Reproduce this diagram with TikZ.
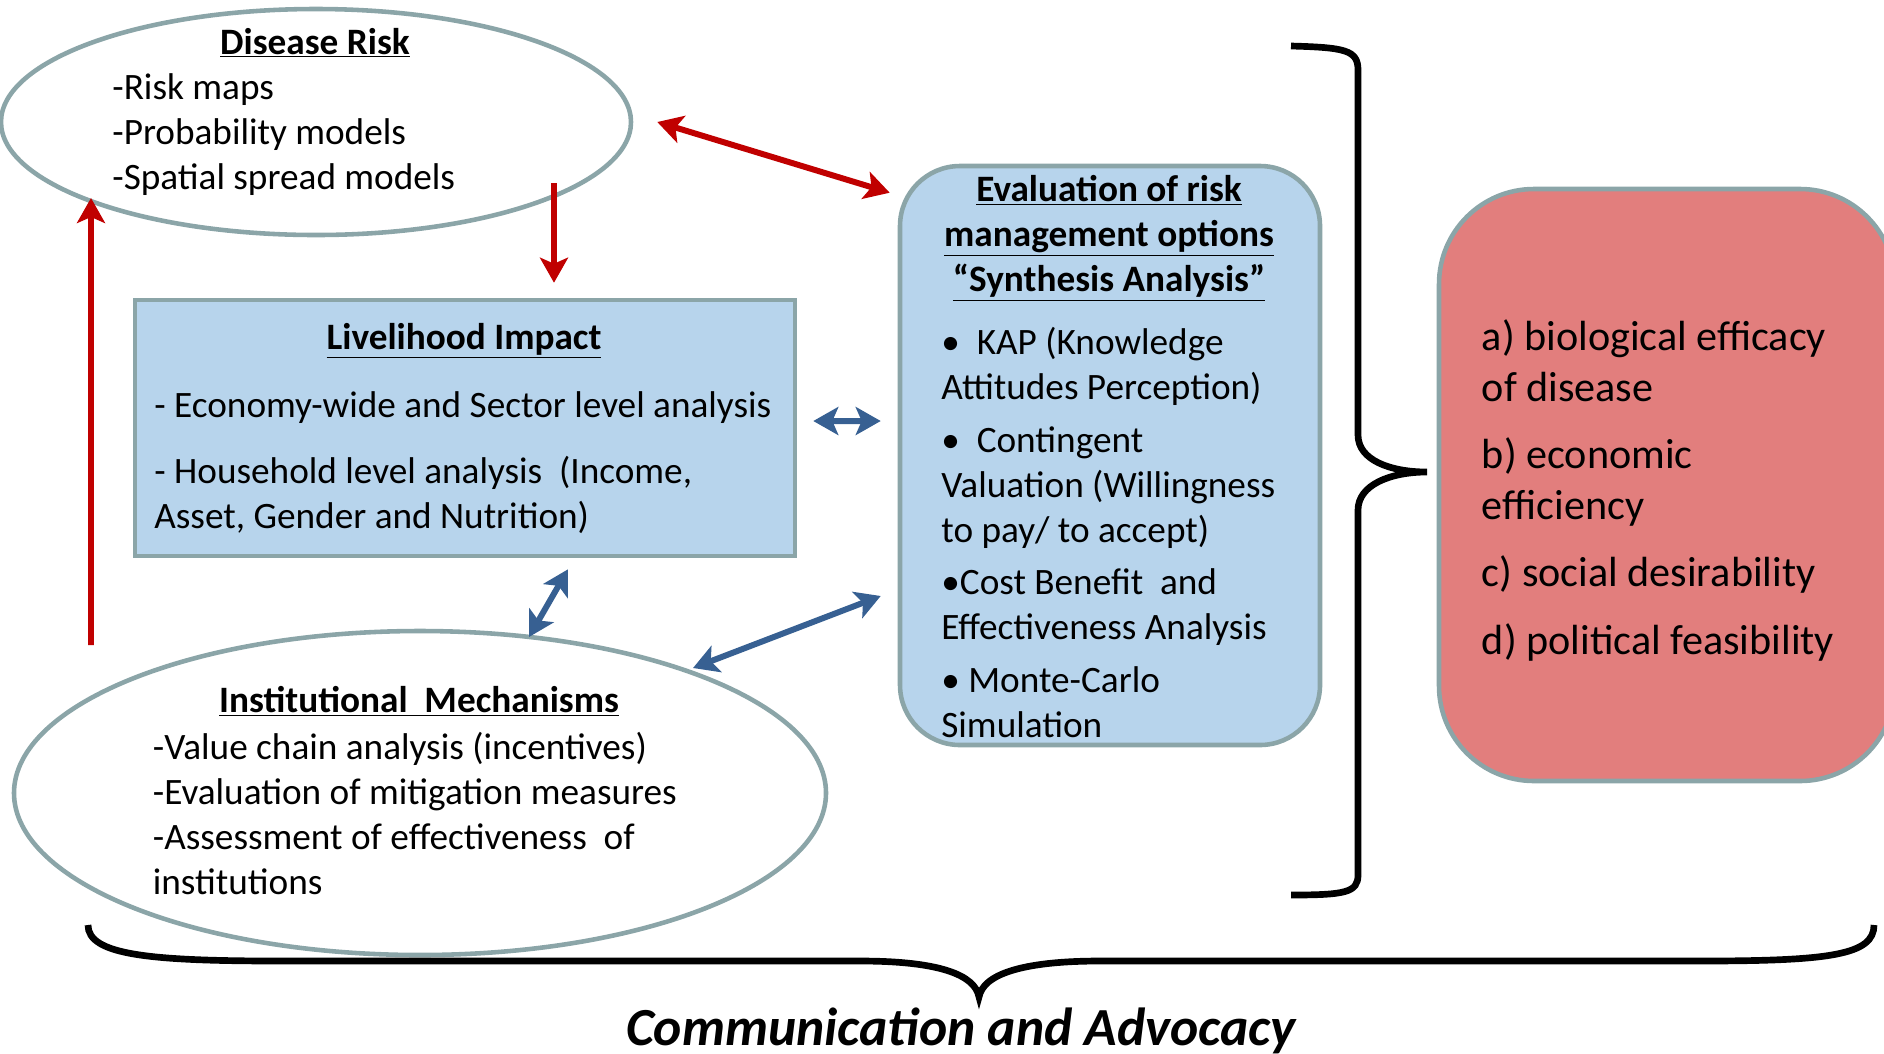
\documentclass[tikz,border=0pt]{standalone}
\usepackage{fontspec}
\setmainfont{Carlito}
\usetikzlibrary{shapes.geometric, arrows.meta}
\definecolor{edgecolor}{RGB}{139, 165, 168}
\definecolor{boxcolor}{RGB}{183, 212, 236}
\definecolor{criteriacolor}{RGB}{226, 126, 125}
\definecolor{riskred}{RGB}{192, 0, 0}
\definecolor{linkblue}{RGB}{55, 96, 146}

\begin{document}
\begin{tikzpicture}[
    >={Stealth[length=0.5cm, width=0.56cm, inset=0.12cm]},
    oval/.style={ellipse, draw=edgecolor, line width=2.6pt, fill=white},
    panel/.style={rectangle, draw=edgecolor, line width=2.6pt, fill=boxcolor},
    heading/.style={font=\fontsize{21.2}{25.6}\selectfont\bfseries, align=center, anchor=base, inner sep=0pt},
    body/.style={font=\fontsize{21.2}{25.6}\selectfont, align=left, anchor=west, inner sep=0pt},
    redlink/.style={draw=riskred, line width=3.4pt},
    bluelink/.style={draw=linkblue, line width=3.4pt},
    brace/.style={draw=black, line width=3.8pt}
]
\clip (0,0) rectangle (37.68,-21.06);
\useasboundingbox (0,0) rectangle (37.68,-21.06);

% Disease risk
\node[oval, minimum width=12.6cm, minimum height=4.52cm] (risk) at (6.32,-2.44) {};
\node[heading] (riskhead) at (6.3,-1.08) {\underline{Disease Risk}};
\node[body] (risklist) at (2.24,-2.69) {-Risk maps\\-Probability models\\-Spatial spread models};

% Livelihood impact
\node[panel, minimum width=13.2cm, minimum height=5.12cm] (live) at (9.3,-8.56) {};
\node[heading] (livehead) at (9.28,-6.99) {\underline{Livelihood Impact}};
\node[body] (livelist) at (3.08,-9.26) {- Economy-wide and Sector level analysis\\[0.42cm]- Household level analysis\ \ (Income,\\Asset, Gender and Nutrition)};

% Institutional mechanisms
\node[oval, minimum width=16.24cm, minimum height=6.48cm] (inst) at (8.4,-15.86) {};
\node[heading] (insthead) at (8.38,-14.25) {\underline{Institutional\ \ Mechanisms}};
\node[body] (instlist) at (3.05,-16.27) {-Value chain analysis (incentives)\\-Evaluation of mitigation measures\\-Assessment of effectiveness\ \ of\\institutions};

% Synthesis analysis
\node[panel, rounded corners=1.2cm, minimum width=8.4cm, minimum height=11.58cm] (eval) at (22.2,-9.11) {};
\node[heading, anchor=center] (evalhead) at (22.18,-4.77) {\underline{Evaluation of risk}\\\underline{management options}\\\underline{“Synthesis Analysis”}};
\node[body] (evallist) at (18.82,-10.65) {•\ \ KAP (Knowledge\\Attitudes Perception)\\[0.17cm]•\ \ Contingent\\Valuation (Willingness\\to pay/ to accept)\\[0.14cm]•Cost Benefit\ \ and\\Effectiveness Analysis\\[0.16cm]• Monte-Carlo\\Simulation};

% Decision criteria
\node[rectangle, draw=edgecolor, line width=2.6pt, fill=criteriacolor, rounded corners=1.9cm, minimum width=9.12cm, minimum height=11.84cm] (criteria) at (33.34,-9.7) {};
\node[body, font=\fontsize{24}{28.7}\selectfont] (criterialist) at (29.63,-9.81) {a) biological efficacy\\of disease\\[0.34cm]b) economic\\efficiency\\[0.34cm]c) social desirability\\[0.34cm]d) political feasibility};

% Braces
\draw[brace] (25.82,-0.92) .. controls (26.9,-0.95) and (27.16,-1.0) .. (27.16,-1.4) -- (27.16,-8.7)
    .. controls (27.16,-9.2) and (27.8,-9.44) .. (28.54,-9.44)
    .. controls (27.8,-9.44) and (27.16,-9.7) .. (27.16,-10.2) -- (27.16,-17.5)
    .. controls (27.16,-17.85) and (26.9,-17.9) .. (25.82,-17.9);
\draw[brace] (1.76,-18.5) .. controls (1.76,-19.1) and (3,-19.22) .. (5.6,-19.22) -- (17.2,-19.22)
    .. controls (18.8,-19.22) and (19.5,-19.5) .. (19.58,-19.94)
    .. controls (19.66,-19.5) and (20.4,-19.22) .. (22,-19.22) -- (34,-19.22)
    .. controls (36.6,-19.22) and (37.48,-19.1) .. (37.48,-18.5);
\node[font=\fontsize{30.5}{36}\selectfont\bfseries\itshape, anchor=base] (advocacy) at (19.22,-20.9) {Communication and Advocacy};

% Arrows
\draw[redlink, <->] ([xshift=0.48cm]risk.east) -- ([shift={(-0.16,-0.58)}]eval.north west);
\draw[redlink, ->] ([shift={(4.76,-1.22)}]risk.center) -- ([shift={(1.78,0.3)}]live.north);
\draw[redlink, ->] ([shift={(-6.58,2.96)}]inst.center) -- ([shift={(-4.5,-1.52)}]risk.center);
\draw[bluelink, <->] ([shift={(0.32,0.14)}]live.east) -- ([shift={(-0.34,0.69)}]eval.west);
\draw[bluelink, <->] ([shift={(2.18,3.12)}]inst.center) -- ([shift={(2.06,-0.22)}]live.south);
\draw[bluelink, <->] ([shift={(5.46,2.5)}]inst.center) -- ([shift={(-0.34,-2.81)}]eval.west);

\end{tikzpicture}
\end{document}
